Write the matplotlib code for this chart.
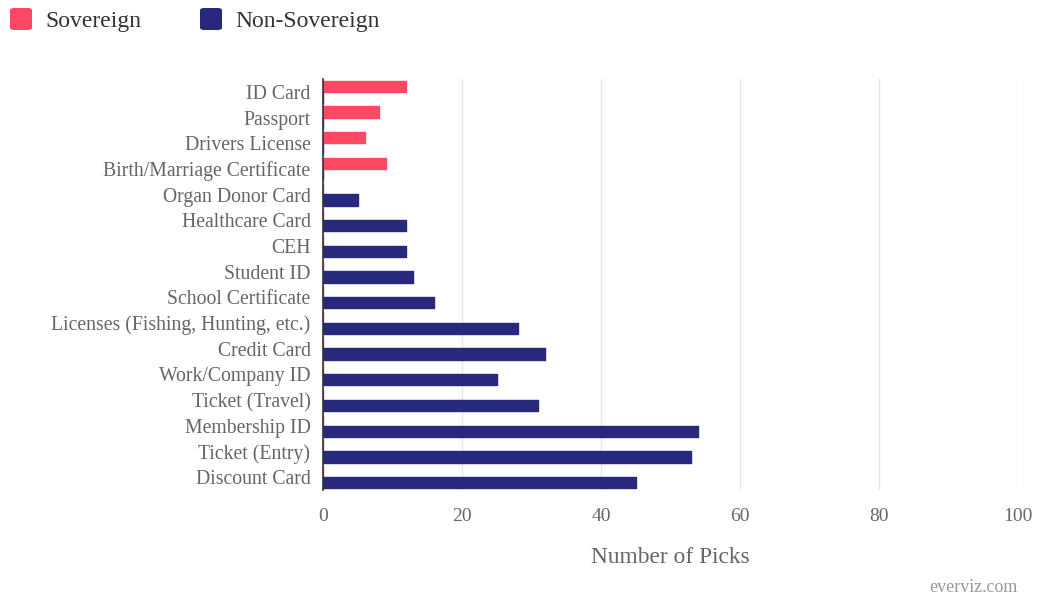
import matplotlib
matplotlib.use("Agg")
import matplotlib.pyplot as plt
from matplotlib.patches import FancyBboxPatch
import numpy as np

categories = ["ID Card", "Passport", "Drivers License", "Birth/Marriage Certificate",
              "Organ Donor Card", "Healthcare Card", "CEH", "Student ID",
              "School Certificate", "Licenses (Fishing, Hunting, etc.)", "Credit Card",
              "Work/Company ID", "Ticket (Travel)", "Membership ID", "Ticket (Entry)",
              "Discount Card"]
sovereign = [12, 8, 6, 9, 0, 0, 0, 0, 0, 0, 0, 0, 0, 0, 0, 0]
non_sovereign = [0, 0, 0, 0, 5, 12, 12, 13, 16, 28, 32, 25, 31, 54, 53, 45]
x_ticks = [0, 20, 40, 60, 80, 100]
series_names = ["Sovereign", "Non-Sovereign"]

c_sov = "#FD4863"
c_non = "#28287C"
text_col = "#666666"

plt.rcParams['font.family'] = ['Liberation Serif', 'DejaVu Serif']

W, H = 1038, 596
fig = plt.figure(figsize=(W/100, H/100), dpi=100)
ax = fig.add_axes([323/W, 1-490/H, (1018-323)/W, (490-79)/H])

y = np.arange(len(categories))
h = 0.44
off = 0.21
b1 = ax.barh(y - off, sovereign, height=h, color=c_sov, edgecolor=c_sov,
             linewidth=1.0, joinstyle='round', label=series_names[0], zorder=3)
b2 = ax.barh(y + off, non_sovereign, height=h, color=c_non, edgecolor=c_non,
             linewidth=1.0, joinstyle='round', label=series_names[1], zorder=3)

ax.set_ylim(len(categories) - 0.5, -0.5)
ax.set_xlim(0, 100)
ax.set_yticks(y)
ax.set_yticklabels(categories, fontsize=14.2, color=text_col)
ax.set_xticks(x_ticks)
ax.set_xticklabels([str(t) for t in x_ticks], fontsize=14, color=text_col)
ax.tick_params(axis='y', length=0, pad=9)
ax.tick_params(axis='x', length=0, pad=13)

ax.grid(axis='x', color="#e6e6e6", linewidth=1, zorder=0)
for s in ["top", "right", "bottom"]:
    ax.spines[s].set_visible(False)
ax.spines["left"].set_color("#333333")
ax.spines["left"].set_linewidth(1.2)
ax.spines["left"].set_zorder(4)

ax.set_xlabel("Number of Picks", fontsize=16.8, color=text_col, labelpad=16)

# legend (manual, top-left)
for (x0, name, col) in [(10, series_names[0], c_sov), (200, series_names[1], c_non)]:
    p = FancyBboxPatch((x0/W, 1-30/H), 22/W, 22/H,
                       boxstyle="round,pad=0,rounding_size=0.004",
                       transform=fig.transFigure, facecolor=col, edgecolor='none')
    fig.patches.append(p)
    fig.text((x0+35)/W, 1-21/H, name, ha="left", va="center", fontsize=17, color="#333333")

fig.text(1018/W, 1-587/H, "everviz.com", ha="right", va="center",
         fontsize=13, color="#999999")

fig.savefig("out.png", dpi=100)
